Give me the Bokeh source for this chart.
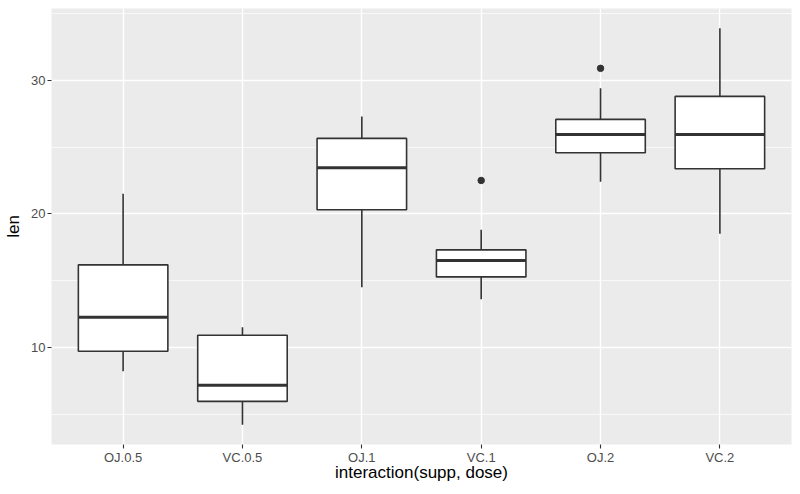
from bokeh.plotting import figure
from bokeh.models import Range1d, FactorRange, FixedTicker, ColumnDataSource
from bokeh.transform import dodge
from bokeh.embed import file_html
from bokeh.resources import INLINE

categories = ["OJ.0.5", "VC.0.5", "OJ.1", "VC.1", "OJ.2", "VC.2"]
lower = [8.2, 4.2, 14.5, 13.6, 22.4, 18.5]
q1 = [9.7, 5.95, 20.3, 15.275, 24.575, 23.375]
median = [12.25, 7.15, 23.45, 16.5, 25.95, 25.95]
q3 = [16.175, 10.9, 25.65, 17.3, 27.075, 28.8]
upper = [21.5, 11.5, 27.3, 18.8, 29.4, 33.9]
outlier_cat = ["VC.1", "OJ.2"]
outlier_val = [22.5, 30.9]
y_ticks = [10, 20, 30]
y_minor = [5, 15, 25, 35]

FONT = "Liberation Sans"
INK = "#333333"

src = ColumnDataSource(dict(cat=categories, lower=lower, q1=q1, median=median, q3=q3, upper=upper))
osrc = ColumnDataSource(dict(cat=outlier_cat, val=outlier_val))

p = figure(x_range=FactorRange(*categories, range_padding=0.1, range_padding_units="absolute"),
           y_range=Range1d(2.715, 35.385),
           frame_width=740, frame_height=436,
           min_border_left=51, min_border_right=1, min_border_top=8, min_border_bottom=42,
           output_backend="svg", toolbar_location=None,
           background_fill_color="#EBEBEB", border_fill_color="white", outline_line_color=None)

# whiskers
p.segment(x0="cat", y0="q3", x1="cat", y1="upper", source=src, line_color=INK, line_width=1.6)
p.segment(x0="cat", y0="q1", x1="cat", y1="lower", source=src, line_color=INK, line_width=1.6)
# boxes
p.vbar(x="cat", top="q3", bottom="q1", width=0.75, source=src, fill_color="white",
       line_color=INK, line_width=1.6)
# medians
p.segment(x0=dodge("cat", -0.375, range=p.x_range), y0="median",
          x1=dodge("cat", 0.375, range=p.x_range), y1="median",
          source=src, line_color=INK, line_width=3)
# outliers
p.scatter(x="cat", y="val", source=osrc, size=6.5, fill_color=INK, line_color=INK)

p.yaxis.ticker = FixedTicker(ticks=y_ticks, minor_ticks=y_minor)
p.ygrid.ticker = p.yaxis.ticker
p.ygrid.grid_line_color = "white"
p.ygrid.grid_line_width = 1.4
p.ygrid.minor_grid_line_color = "white"
p.ygrid.minor_grid_line_width = 0.7
p.xgrid.grid_line_color = "white"
p.xgrid.grid_line_width = 1.4

for ax in (p.xaxis, p.yaxis):
    ax.axis_line_color = None
    ax.major_tick_line_color = INK
    ax.major_tick_line_width = 1.1
    ax.major_tick_out = 4
    ax.major_tick_in = 0
    ax.minor_tick_line_color = None
    ax.major_label_text_font = FONT
    ax.major_label_text_font_size = "13px"
    ax.major_label_text_color = "#4D4D4D"
    ax.axis_label_text_font = FONT
    ax.axis_label_text_font_size = "17px"
    ax.axis_label_text_font_style = "normal"
    ax.axis_label_text_color = "black"

p.xaxis.major_label_standoff = 1
p.xaxis.axis_label_standoff = -5
p.yaxis.major_label_standoff = 2
p.yaxis.axis_label_standoff = 5

p.xaxis.axis_label = "interaction(supp, dose)"
p.yaxis.axis_label = "len"

open("out.html", "w").write(file_html(p, INLINE))
